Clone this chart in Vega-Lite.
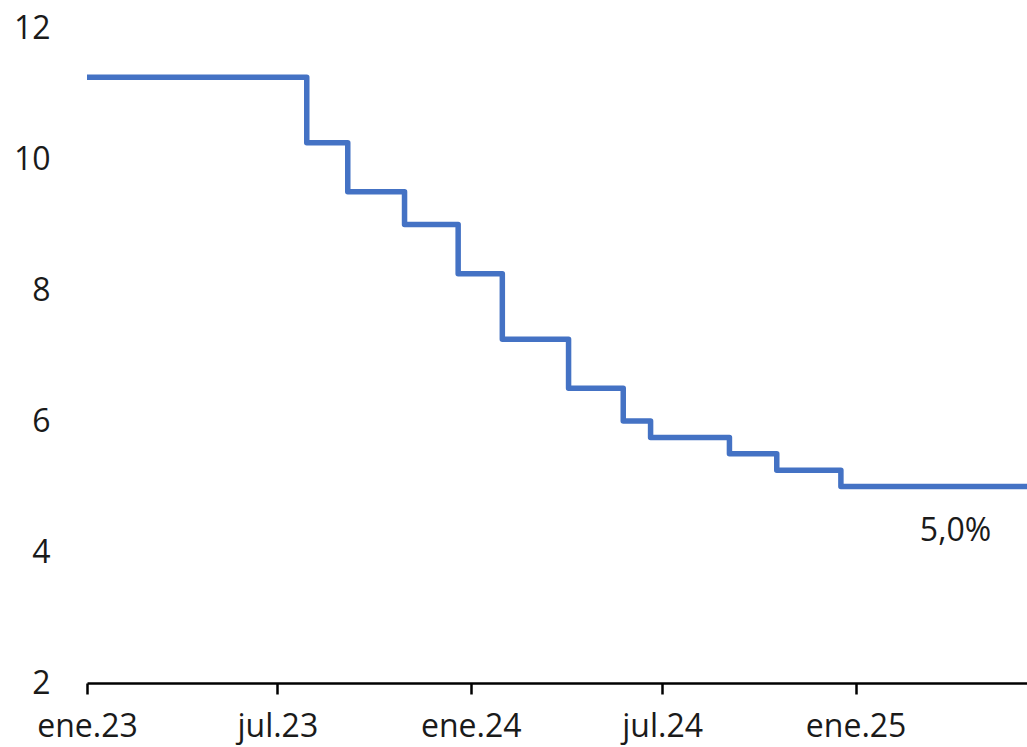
{
  "$schema": "https://vega.github.io/schema/vega-lite/v6.json",
  "autosize": {"type": "none"},
  "width": 940,
  "height": 655,
  "padding": {"left": 87, "top": 28, "right": 0, "bottom": 64},
  "background": "white",
  "config": {"view": {"stroke": null}, "font": "Open Sans"},
  "datasets": {
    "tpm": [
      {"fecha": "2023-01-01T00:00:00", "tasa": 11.25},
      {"fecha": "2023-07-29T00:00:00", "tasa": 10.25},
      {"fecha": "2023-09-06T00:00:00", "tasa": 9.5},
      {"fecha": "2023-10-30T00:00:00", "tasa": 9.0},
      {"fecha": "2023-12-20T00:00:00", "tasa": 8.25},
      {"fecha": "2024-01-31T00:00:00", "tasa": 7.25},
      {"fecha": "2024-04-03T00:00:00", "tasa": 6.5},
      {"fecha": "2024-05-25T00:00:00", "tasa": 6.0},
      {"fecha": "2024-06-20T00:00:00", "tasa": 5.75},
      {"fecha": "2024-09-03T00:00:00", "tasa": 5.5},
      {"fecha": "2024-10-18T00:00:00", "tasa": 5.25},
      {"fecha": "2024-12-18T00:00:00", "tasa": 5.0},
      {"fecha": "2025-06-13T00:00:00", "tasa": 5.0}
    ],
    "etiqueta": [
      {"fecha": "2025-04-06T00:00:00", "tasa": 5.0, "texto": "5,0%"}
    ]
  },
  "layer": [
    {
      "data": {"name": "tpm"},
      "mark": {"type": "line", "interpolate": "step-after", "color": "#4472C4", "strokeWidth": 5.5, "strokeJoin": "round", "strokeCap": "butt", "clip": true},
      "encoding": {
        "x": {
          "field": "fecha", "type": "temporal",
          "scale": {"domain": ["2023-01-01T00:00:00", "2025-06-13T00:00:00"]},
          "axis": {
            "title": null,
            "grid": false,
            "values": ["2023-01-01T00:00:00", "2023-07-01T00:00:00", "2024-01-01T00:00:00", "2024-07-01T00:00:00", "2025-01-01T00:00:00"],
            "labelExpr": "(month(datum.value) == 0 ? 'ene.' : 'jul.') + timeFormat(datum.value, '%y')",
            "domainColor": "#000000",
            "domainWidth": 2.5,
            "tickColor": "#000000",
            "tickWidth": 2.5,
            "tickSize": 11,
            "labelFontSize": 32,
            "labelColor": "#1a1a1a",
            "labelPadding": 17,
            "labelFlush": false,
            "labelOverlap": false
          }
        },
        "y": {
          "field": "tasa", "type": "quantitative",
          "scale": {"domain": [2, 12], "nice": false, "zero": false},
          "axis": {
            "title": null,
            "grid": false,
            "domain": false,
            "ticks": false,
            "values": [2, 4, 6, 8, 10, 12],
            "format": "d",
            "labelFontSize": 32,
            "labelColor": "#1a1a1a",
            "labelPadding": 37
          }
        }
      }
    },
    {
      "data": {"name": "etiqueta"},
      "mark": {"type": "text", "fontSize": 32, "color": "#1a1a1a", "dy": 44, "align": "center", "baseline": "middle"},
      "encoding": {
        "x": {"field": "fecha", "type": "temporal"},
        "y": {"field": "tasa", "type": "quantitative"},
        "text": {"field": "texto"}
      }
    }
  ]
}
